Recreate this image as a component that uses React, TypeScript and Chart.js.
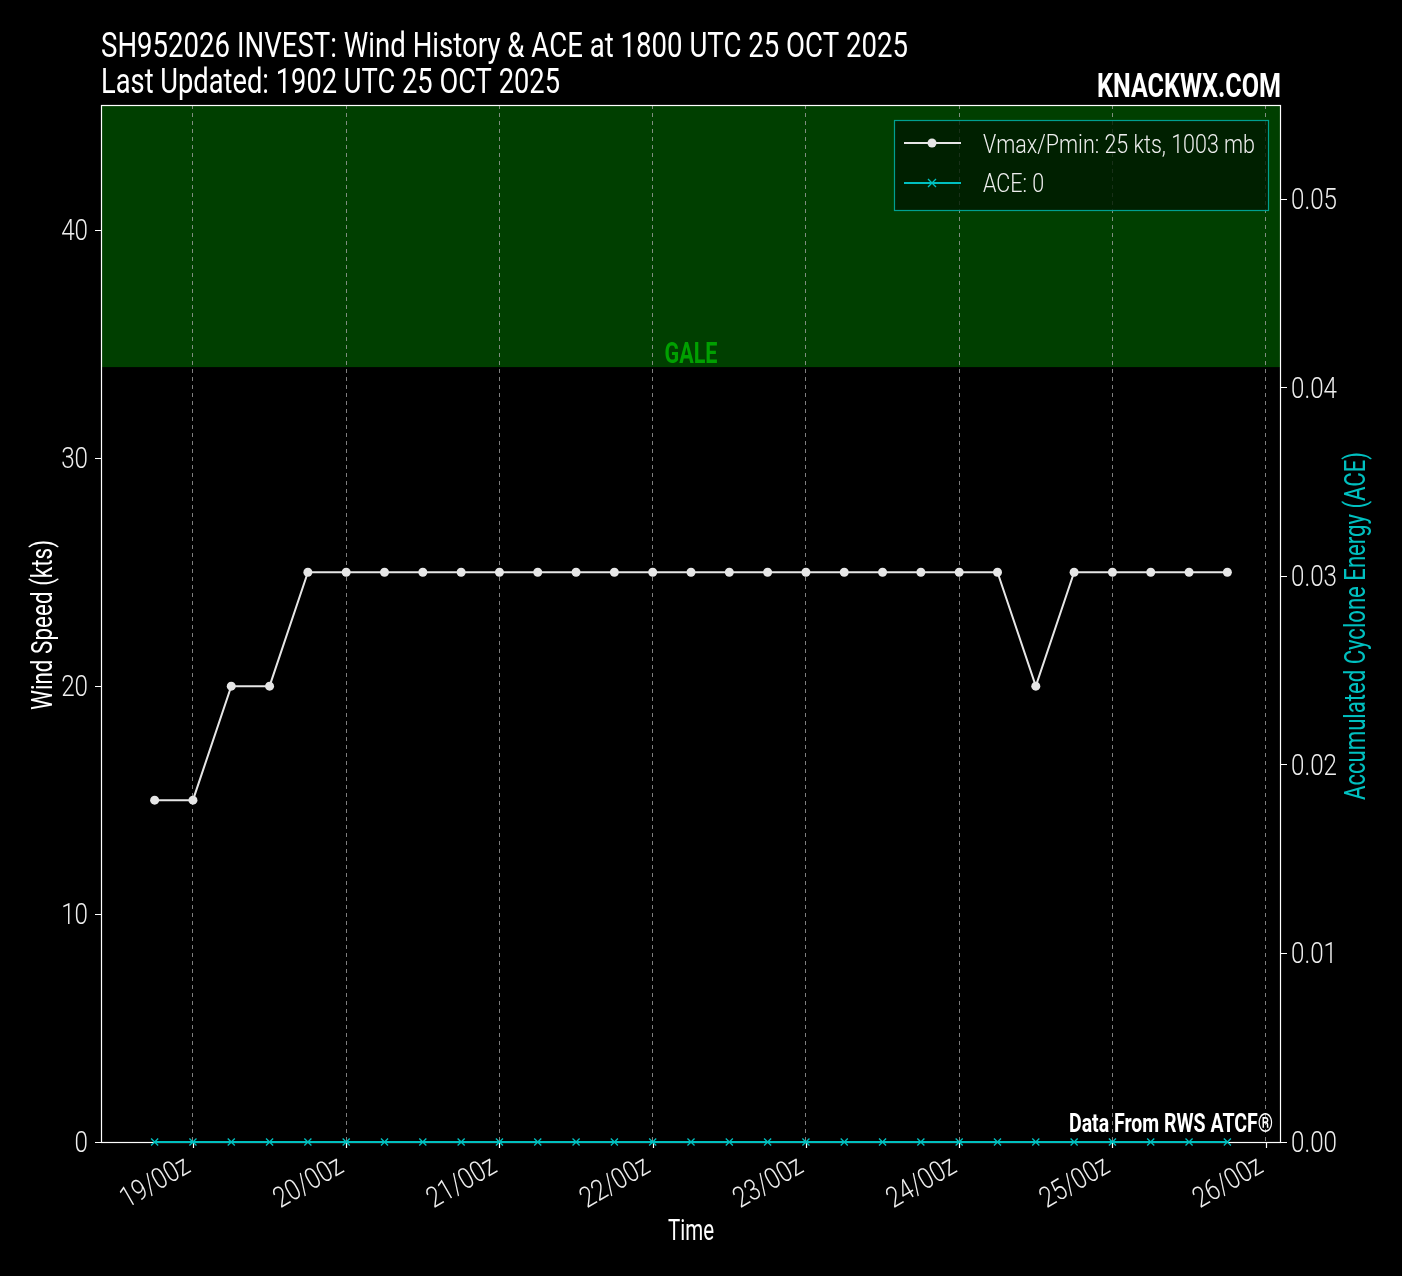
import React, { useEffect, useRef } from "react";
import { Chart, registerables } from "chart.js";

Chart.register(...registerables);

// hours relative to 19/00z
const timeHours = [-6, 0, 6, 12, 18, 24, 30, 36, 42, 48, 54, 60, 66, 72, 78, 84, 90, 96, 102, 108, 114, 120, 126, 132, 138, 144, 150, 156, 162];
const windKts = [15, 15, 20, 20, 25, 25, 25, 25, 25, 25, 25, 25, 25, 25, 25, 25, 25, 25, 25, 25, 25, 25, 25, 20, 25, 25, 25, 25, 25];
const aceValues = [0, 0, 0, 0, 0, 0, 0, 0, 0, 0, 0, 0, 0, 0, 0, 0, 0, 0, 0, 0, 0, 0, 0, 0, 0, 0, 0, 0, 0];
const xTickHours = [0, 24, 48, 72, 96, 120, 144, 168];
const leftTicks = [0, 10, 20, 30, 40];
const rightTicks = [0, 0.01, 0.02, 0.03, 0.04, 0.05];
const galeThreshold = 34;
const titleLine1 = "SH952026 INVEST: Wind History & ACE at 1800 UTC 25 OCT 2025";
const titleLine2 = "Last Updated: 1902 UTC 25 OCT 2025";
const legendLabels = ["Vmax/Pmin: 25 kts, 1003 mb", "ACE: 0"];

const FONT = "Roboto, 'DejaVu Sans', sans-serif";
const WIND_COLOR = "#e6e6e6";
const ACE_COLOR = "#00c0c0";
const TEXT = "#eeeeee";

type TOpts = { size: number; weight?: string; color: string; align?: CanvasTextAlign; baseline?: CanvasTextBaseline; sx?: number; width?: number; rot?: number };

function drawText(ctx: CanvasRenderingContext2D, text: string, x: number, y: number, o: TOpts) {
  ctx.save();
  ctx.font = `${o.weight || "normal"} ${o.size}px ${FONT}`;
  ctx.fillStyle = o.color;
  ctx.textAlign = o.align || "left";
  ctx.textBaseline = o.baseline || "alphabetic";
  let sx = o.sx ?? 1;
  if (o.width) sx = o.width / ctx.measureText(text).width;
  ctx.translate(x, y);
  if (o.rot) ctx.rotate(o.rot);
  ctx.scale(sx, 1);
  ctx.fillText(text, 0, 0);
  ctx.restore();
}

function tickScale(ctx: CanvasRenderingContext2D) {
  ctx.save();
  ctx.font = `300 29px ${FONT}`;
  const w = ctx.measureText("0.05").width;
  ctx.restore();
  return 46 / w;
}

export default function App() {
  const ref = useRef<HTMLCanvasElement | null>(null);
  useEffect(() => {
    document.body.style.margin = "0";
    document.body.style.background = "#000";
    const canvas = ref.current!;
    const decor = {
      id: "decor",
      beforeDraw(chart: any) {
        const { ctx, chartArea: a, scales } = chart;
        ctx.save();
        ctx.fillStyle = "#000";
        ctx.fillRect(0, 0, chart.width, chart.height);
        const yG = scales.y.getPixelForValue(galeThreshold);
        ctx.fillStyle = "#003f00";
        ctx.fillRect(a.left, a.top, a.right - a.left, yG - a.top);
        ctx.restore();
      },
      beforeDatasetsDraw(chart: any) {
        const { ctx, chartArea: a, scales } = chart;
        ctx.save();
        ctx.strokeStyle = "#ffffff";
        ctx.lineWidth = 1.2;
        ctx.strokeRect(a.left + 0.5, a.top + 0.5, a.right - a.left - 1, a.bottom - a.top);
        xTickHours.forEach((h) => {
          const x = Math.round(scales.x.getPixelForValue(h)) + 0.5;
          ctx.beginPath();
          ctx.moveTo(x, a.bottom);
          ctx.lineTo(x, a.bottom + 6);
          ctx.stroke();
        });
        ctx.restore();
        // tick labels
        const sx = tickScale(ctx);
        scales.y.ticks.forEach((t: any) => {
          drawText(ctx, `${t.value}`, a.left - 13, scales.y.getPixelForValue(t.value) + 10, { size: 29, weight: "300", color: TEXT, align: "right", sx });
        });
        scales.y1.ticks.forEach((t: any) => {
          drawText(ctx, Number(t.value).toFixed(2), a.right + 10, scales.y1.getPixelForValue(t.value) + 10, { size: 29, weight: "300", color: TEXT, align: "left", sx });
        });
        scales.x.ticks.forEach((t: any) => {
          const x = scales.x.getPixelForValue(t.value);
          const label = `${19 + Math.round(t.value / 24)}/00z`;
          drawText(ctx, label, x - 1, a.bottom + 29, { size: 29, weight: "300", color: TEXT, align: "right", sx, rot: -Math.PI / 6 });
        });
      },
      afterDatasetsDraw(chart: any) {
        const { ctx, chartArea: a, scales } = chart;
        const yG = scales.y.getPixelForValue(galeThreshold);
        drawText(ctx, "GALE", (a.left + a.right) / 2, yG - 4, { size: 30, weight: "bold", color: "#00a000", align: "center", width: 53 });
        ctx.save();
        const lx = 894, ly = 120, lw = 374, lh = 90;
        ctx.fillStyle = "rgba(0,25,0,0.8)";
        ctx.fillRect(lx, ly, lw, lh);
        ctx.strokeStyle = "#00a090";
        ctx.lineWidth = 1.2;
        ctx.strokeRect(lx + 0.5, ly + 0.5, lw, lh);
        const rows = [143, 183];
        ctx.strokeStyle = WIND_COLOR;
        ctx.lineWidth = 2;
        ctx.beginPath();
        ctx.moveTo(904, rows[0]);
        ctx.lineTo(961, rows[0]);
        ctx.stroke();
        ctx.fillStyle = WIND_COLOR;
        ctx.beginPath();
        ctx.arc(932, rows[0], 4.5, 0, Math.PI * 2);
        ctx.fill();
        ctx.strokeStyle = ACE_COLOR;
        ctx.beginPath();
        ctx.moveTo(904, rows[1]);
        ctx.lineTo(961, rows[1]);
        ctx.stroke();
        ctx.lineWidth = 1.3;
        ctx.beginPath();
        ctx.moveTo(928, rows[1] - 4);
        ctx.lineTo(936, rows[1] + 4);
        ctx.moveTo(936, rows[1] - 4);
        ctx.lineTo(928, rows[1] + 4);
        ctx.stroke();
        ctx.restore();
        drawText(ctx, legendLabels[0], 983, 153, { size: 25, weight: "300", color: TEXT, width: 272 });
        const legSx = (() => { ctx.save(); ctx.font = `300 25px ${FONT}`; const w = ctx.measureText(legendLabels[0]).width; ctx.restore(); return 272 / w; })();
        drawText(ctx, legendLabels[1], 983, 192, { size: 25, weight: "300", color: TEXT, sx: legSx });
        drawText(ctx, "Data From RWS ATCF®", a.right - 8, 1132, { size: 25, weight: "bold", color: "#ffffff", align: "right", width: 204 });
      },
      afterDraw(chart: any) {
        const { ctx, chartArea: a } = chart;
        drawText(ctx, titleLine1, a.left, 57, { size: 35, color: "#ffffff", width: 807 });
        drawText(ctx, titleLine2, a.left, 93, { size: 35, color: "#ffffff", width: 459 });
        drawText(ctx, "KNACKWX.COM", a.right, 97, { size: 33, weight: "bold", color: "#ffffff", align: "right", width: 184 });
        drawText(ctx, "Time", (a.left + a.right) / 2, 1240, { size: 30, color: "#ffffff", align: "center", width: 46 });
        drawText(ctx, "Wind Speed (kts)", 52, 625, { size: 30, color: "#ffffff", align: "center", width: 170, rot: -Math.PI / 2 });
        drawText(ctx, "Accumulated Cyclone Energy (ACE)", 1365, 626, { size: 30, color: ACE_COLOR, align: "center", width: 348, rot: -Math.PI / 2 });
      },
    };

    const chart = new Chart(canvas, {
      type: "line",
      data: {
        datasets: [
          {
            label: "wind",
            data: timeHours.map((h, i) => ({ x: h, y: windKts[i] })),
            borderColor: WIND_COLOR,
            backgroundColor: WIND_COLOR,
            borderWidth: 2,
            pointRadius: 4.5,
            pointBorderWidth: 0,
            pointBackgroundColor: WIND_COLOR,
            yAxisID: "y",
            clip: false,
          },
          {
            label: "ace",
            data: timeHours.map((h, i) => ({ x: h, y: aceValues[i] })),
            borderColor: ACE_COLOR,
            backgroundColor: ACE_COLOR,
            borderWidth: 2,
            pointStyle: "crossRot",
            pointRadius: 5,
            pointBorderWidth: 1.3,
            pointBorderColor: ACE_COLOR,
            yAxisID: "y1",
            clip: false,
          },
        ],
      },
      options: {
        animation: false,
        responsive: false,
        events: [],
        layout: { padding: { top: 105, left: 0, right: 0, bottom: 0 } },
        plugins: { legend: { display: false }, tooltip: { enabled: false }, title: { display: false } },
        scales: {
          x: {
            type: "linear",
            min: -14.4,
            max: 170.4,
            afterBuildTicks: (s: any) => { s.ticks = xTickHours.map((v) => ({ value: v })); },
            afterFit: (s: any) => { s.height = 134; },
            grid: { display: true, drawOnChartArea: true, drawTicks: false, color: "rgba(170,170,170,0.75)", lineWidth: 1 },
            border: { display: false, dash: [4, 4] },
            ticks: { display: false, autoSkip: false },
          },
          y: {
            position: "left",
            min: 0,
            max: 45.5,
            afterBuildTicks: (s: any) => { s.ticks = leftTicks.map((v) => ({ value: v })); },
            afterFit: (s: any) => { s.width = 101; },
            grid: { drawOnChartArea: false, drawTicks: true, tickLength: 6, color: "#ffffff" },
            border: { display: false },
            ticks: { display: false },
          },
          y1: {
            position: "right",
            min: 0,
            max: 0.055,
            afterBuildTicks: (s: any) => { s.ticks = rightTicks.map((v) => ({ value: v })); },
            afterFit: (s: any) => { s.width = 121; },
            grid: { drawOnChartArea: false, drawTicks: true, tickLength: 6, color: "#ffffff" },
            border: { display: false },
            ticks: { display: false },
          },
        },
      },
      plugins: [decor],
    } as any);
    return () => chart.destroy();
  }, []);
  return <canvas ref={ref} width={1402} height={1276} style={{ display: "block" }} />;
}
